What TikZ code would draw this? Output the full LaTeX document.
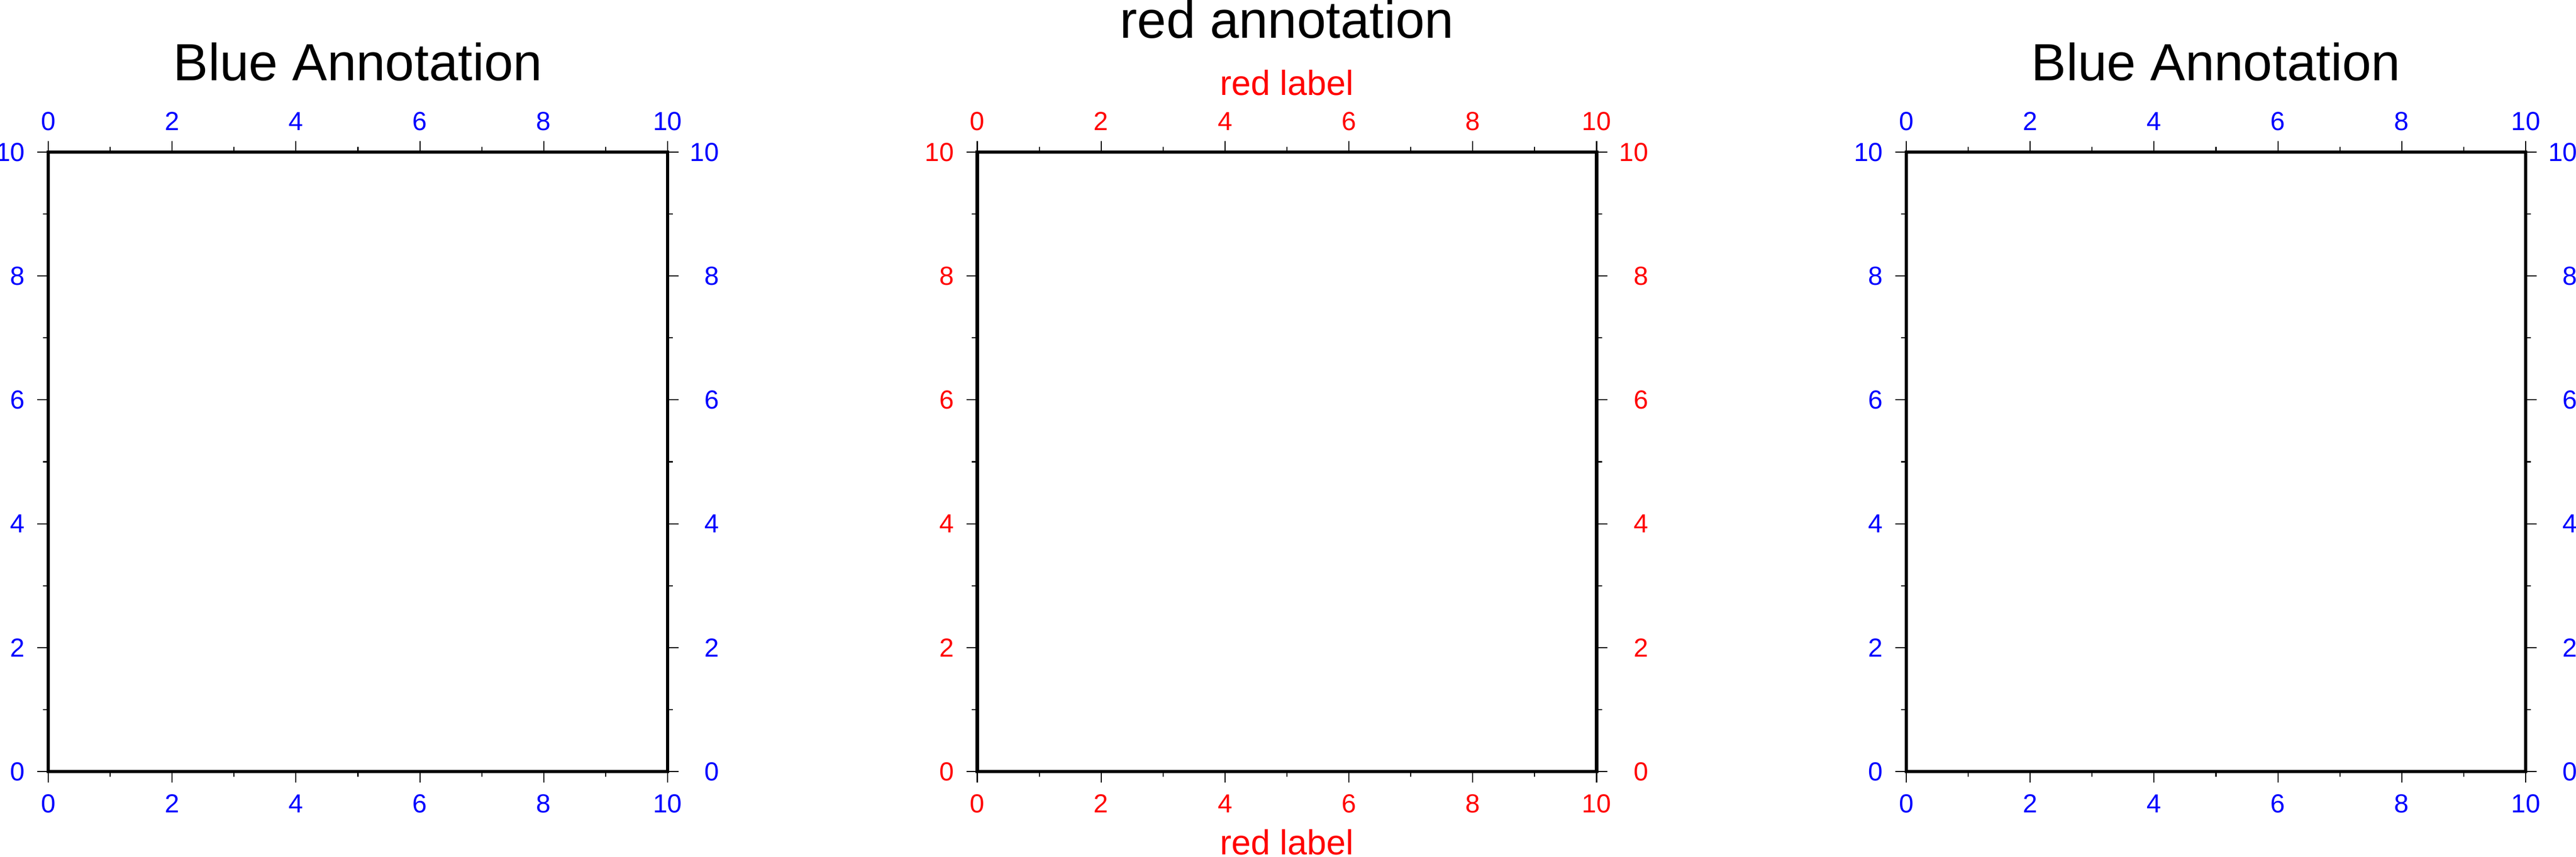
\documentclass[tikz,border=0pt]{standalone}
\usepackage{fontspec}
\setmainfont{Liberation Sans}
\tikzstyle{frame}=[
	line width=1.6pt,
	line join=miter
]
\tikzstyle{tick}=[
	line width=0.5pt
]
\tikzstyle{annot}=[
	inner sep=0pt,
	font=\fontsize{12}{14}\selectfont
]
\tikzstyle{axislabel}=[
	inner sep=0pt,
	anchor=base,
	text=red,
	font=\fontsize{16}{19}\selectfont
]
\tikzstyle{plottitle}=[
	inner sep=0pt,
	anchor=base,
	font=\fontsize{24}{29}\selectfont
]

\begin{document}
\begin{tikzpicture}
\useasboundingbox (-0.779,-1.372) rectangle (40.813,12.456);
\foreach \p/\col in {0/blue,1/red,2/blue} {
	\begin{scope}[xshift=\p*15cm]
	\foreach \t in {1,3,...,9} {
		\draw [tick] (\t,0) -- (\t,-0.088);
		\draw [tick] (\t,10) -- (\t,10.088);
		\draw [tick] (0,\t) -- (-0.088,\t);
		\draw [tick] (10,\t) -- (10.088,\t);
	}
	\foreach \t in {0,2,...,10} {
		\draw [tick] (\t,0) -- (\t,-0.176);
		\draw [tick] (\t,10) -- (\t,10.176);
		\draw [tick] (0,\t) -- (-0.176,\t);
		\draw [tick] (10,\t) -- (10.176,\t);
		\node [annot, text=\col, anchor=base] (Bottom-\p-\t) at (\t,-0.665) {\t};
		\node [annot, text=\col, anchor=base] (Top-\p-\t) at (\t,10.355) {\t};
		\node [annot, text=\col, anchor=east] (Left-\p-\t) at (-0.37,\t) {\t};
		\node [annot, text=\col, anchor=east] (Right-\p-\t) at (10.84,\t) {\t};
	}
	\draw [frame] (0,0) rectangle (10,10);
	\end{scope}
}
\node [plottitle] (LeftTitle) at (5,11.152) {Blue Annotation};
\node [plottitle] (MiddleTitle) at (20,11.846) {red annotation};
\node [plottitle] (RightTitle) at (35,11.152) {Blue Annotation};
\node [axislabel] (TopLabel) at (20,10.923) {red label};
\node [axislabel] (BottomLabel) at (20,-1.346) {red label};
\end{tikzpicture}
\end{document}
